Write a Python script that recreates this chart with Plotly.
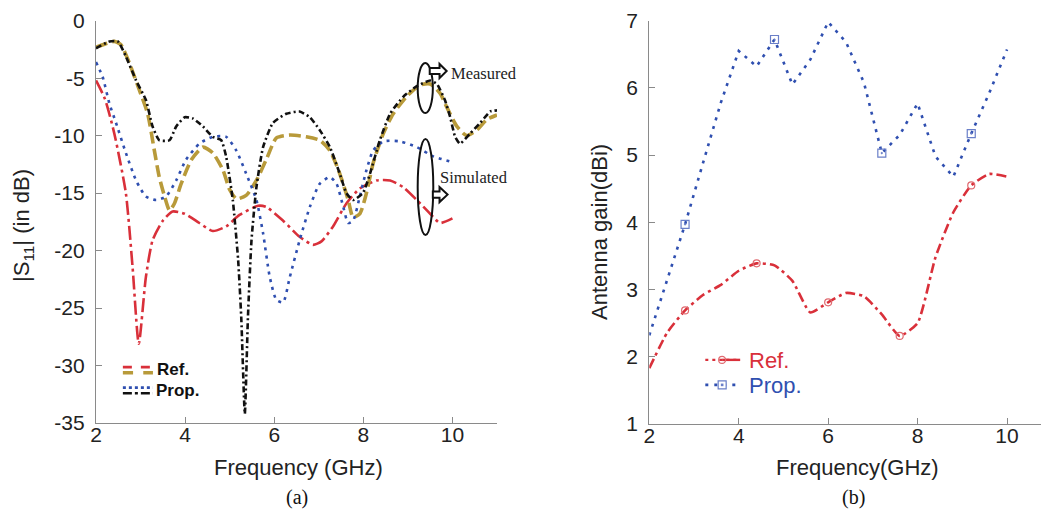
import plotly.graph_objects as go

# ---------------- (a) |S11| data ----------------
ref_sim_f = [2.0, 2.2, 2.41, 2.67, 2.82, 2.96, 3.12, 3.27, 3.5, 3.72, 3.99, 4.32, 4.62, 4.92, 5.22, 5.64,
             5.82, 6.2, 6.57, 6.87, 7.06, 7.32, 7.62, 7.92, 8.3, 8.6, 8.9, 9.2, 9.5, 9.72, 10.0]
ref_sim_s = [-5.2, -6.8, -9.8, -15.0, -21.4, -28.1, -22.3, -19.1, -17.4, -16.6, -16.8, -17.6, -18.3, -17.9,
             -16.9, -16.1, -16.2, -17.4, -18.8, -19.5, -19.2, -17.9, -15.9, -14.6, -13.9, -13.9, -14.5,
             -15.6, -16.8, -17.6, -17.2]

ref_meas_f = [2.0, 2.22, 2.41, 2.56, 2.75, 2.97, 3.16, 3.31, 3.42, 3.54, 3.65, 3.76, 3.91, 4.14, 4.4, 4.62,
              4.85, 5.0, 5.15, 5.37, 5.6, 5.82, 6.05, 6.35, 6.72, 7.02, 7.25, 7.47, 7.66, 7.77, 7.92, 8.07,
              8.22, 8.45, 8.67, 8.97, 9.27, 9.5, 9.72, 9.87, 10.1, 10.32, 10.55, 10.77, 11.0]
ref_meas_s = [-2.3, -2.0, -1.8, -2.1, -3.7, -6.0, -8.1, -11.3, -13.6, -15.3, -16.5, -15.9, -14.2, -12.1,
              -11.0, -11.5, -13.0, -14.7, -15.5, -15.2, -13.9, -12.1, -10.2, -9.95, -10.1, -10.4, -11.3,
              -13.3, -15.6, -17.1, -16.8, -15.0, -12.4, -9.8, -8.1, -6.6, -5.6, -5.5, -6.3, -7.5, -9.2,
              -10.0, -9.5, -8.6, -8.2]

prop_sim_f = [2.0, 2.15, 2.3, 2.45, 2.67, 2.9, 3.12, 3.35, 3.57, 3.8, 4.02, 4.32, 4.62, 4.92, 5.15, 5.37,
              5.6, 5.75, 5.9, 6.05, 6.2, 6.35, 6.57, 6.8, 7.02, 7.25, 7.4, 7.55, 7.66, 7.77, 7.92, 8.07,
              8.22, 8.45, 8.82, 9.2, 9.57, 10.0]
prop_sim_s = [-3.6, -4.9, -7.2, -8.9, -11.5, -13.9, -15.3, -15.6, -15.3, -13.9, -12.1, -10.7, -10.1, -10.1,
              -11.3, -13.3, -15.6, -18.5, -22.3, -24.3, -24.5, -22.3, -19.1, -16.2, -14.2, -13.6, -14.2,
              -16.2, -17.6, -17.4, -15.3, -13.0, -11.3, -10.5, -10.5, -11.0, -11.8, -12.3]

prop_meas_f = [2.0, 2.3, 2.49, 2.67, 2.9, 3.12, 3.27, 3.42, 3.65, 3.8, 3.99, 4.17, 4.4, 4.62, 4.81, 4.92,
               5.07, 5.19, 5.26, 5.34, 5.41, 5.49, 5.6, 5.75, 5.97, 6.27, 6.57, 6.8, 7.02, 7.25, 7.47,
               7.62, 7.77, 7.99, 8.15, 8.37, 8.6, 8.9, 9.2, 9.5, 9.65, 9.83, 9.95, 10.06, 10.17, 10.4,
               10.62, 10.85, 11.0]
prop_meas_s = [-2.4, -1.8, -1.8, -3.1, -5.2, -6.9, -9.2, -10.4, -10.4, -9.2, -8.4, -8.5, -9.2, -10.1,
               -10.4, -11.8, -15.6, -20.8, -25.8, -34.2, -25.8, -19.1, -14.5, -11.0, -8.9, -8.1, -7.9,
               -8.4, -9.5, -11.0, -13.3, -15.0, -15.6, -15.0, -13.3, -10.4, -8.1, -6.6, -5.7, -5.2, -5.5,
               -6.9, -8.4, -10.1, -10.7, -9.8, -8.9, -7.9, -7.8]

s11_xticks = [2, 4, 6, 8, 10]
s11_yticks = [-35, -30, -25, -20, -15, -10, -5, 0]

# ---------------- (b) gain data ----------------
gain_f = [2.0, 2.4, 2.8, 3.2, 3.6, 4.0, 4.4, 4.8, 5.2, 5.6, 6.0, 6.4, 6.8, 7.2, 7.6, 8.0, 8.4, 8.8, 9.2,
          9.6, 10.0]
ref_gain = [1.83, 2.36, 2.69, 2.92, 3.07, 3.28, 3.39, 3.36, 3.13, 2.66, 2.81, 2.95, 2.9, 2.63, 2.31, 2.5,
            3.48, 4.15, 4.55, 4.72, 4.68]
prop_gain = [2.32, 3.15, 3.97, 4.88, 5.78, 6.55, 6.32, 6.72, 6.05, 6.42, 6.98, 6.68, 6.08, 5.03, 5.3,
             5.77, 4.98, 4.68, 5.32, 5.92, 6.57]
ref_marker_idx = [2, 6, 10, 14, 18]
prop_marker_idx = [2, 7, 13, 18]
gain_xticks = [2, 4, 6, 8, 10]
gain_yticks = [1, 2, 3, 4, 5, 6, 7]

RED = "#d9303a"
GOLD = "#b89a3a"
BLUE = "#2f4fb0"
BLACK = "#111111"
AXC = "#8a8a8a"
SANS = "Liberation Sans, Arial, sans-serif"
SERIF = "Liberation Serif, Times New Roman, serif"

fig = go.Figure()

# left panel traces
fig.add_trace(go.Scatter(x=ref_sim_f, y=ref_sim_s, mode="lines", xaxis="x", yaxis="y",
                         line=dict(color=RED, width=2.6, dash="14px,4px,3px,4px", shape="spline", smoothing=0.6)))
fig.add_trace(go.Scatter(x=ref_meas_f, y=ref_meas_s, mode="lines", xaxis="x", yaxis="y",
                         line=dict(color=GOLD, width=3.6, dash="12px,5px", shape="spline", smoothing=0.6)))
fig.add_trace(go.Scatter(x=prop_sim_f, y=prop_sim_s, mode="lines", xaxis="x", yaxis="y",
                         line=dict(color=BLUE, width=2.6, dash="3px,5px", shape="spline", smoothing=0.6)))
fig.add_trace(go.Scatter(x=prop_meas_f, y=prop_meas_s, mode="lines", xaxis="x", yaxis="y",
                         line=dict(color=BLACK, width=2.6, dash="6px,3px,2px,3px", shape="spline", smoothing=0.5)))

# right panel traces
fig.add_trace(go.Scatter(x=gain_f, y=prop_gain, mode="lines", xaxis="x2", yaxis="y2",
                         line=dict(color=BLUE, width=2.6, dash="3px,6px")))
fig.add_trace(go.Scatter(x=[gain_f[i] for i in prop_marker_idx], y=[prop_gain[i] for i in prop_marker_idx],
                         mode="markers", xaxis="x2", yaxis="y2",
                         marker=dict(symbol="square-open-dot", size=8, color="#6a7fc8", line=dict(width=1.2))))
fig.add_trace(go.Scatter(x=gain_f, y=ref_gain, mode="lines", xaxis="x2", yaxis="y2",
                         line=dict(color=RED, width=2.6, dash="10px,4px,3px,4px", shape="spline", smoothing=0.5)))
fig.add_trace(go.Scatter(x=[gain_f[i] for i in ref_marker_idx], y=[ref_gain[i] for i in ref_marker_idx],
                         mode="markers", xaxis="x2", yaxis="y2",
                         marker=dict(symbol="circle-open", size=7, color="#e06a70", line=dict(width=1.2))))

ax_common = dict(showline=True, linecolor=AXC, linewidth=1.2, ticks="inside", ticklen=6, tickcolor=AXC,
                 tickwidth=1.2, showgrid=False, zeroline=False, automargin=False,
                 tickfont=dict(family=SANS, size=21, color="#222"))

W, H = 1041, 514
fig.update_layout(
    width=W, height=H, margin=dict(l=0, r=0, t=0, b=0, autoexpand=False),
    paper_bgcolor="white", plot_bgcolor="white", showlegend=False,
    xaxis=dict(domain=[96 / W, 497 / W], range=[2, 11], tickvals=s11_xticks,
               ticktext=[str(v) for v in s11_xticks], ticklabelstandoff=-7, anchor="y", **ax_common),
    yaxis=dict(domain=[1 - 423 / H, 1 - 20.7 / H], range=[-35, 0], tickvals=s11_yticks,
               ticktext=[str(v) for v in s11_yticks], ticklabelstandoff=6, anchor="x", **ax_common),
    xaxis2=dict(domain=[649.3 / W, 1.0], range=[2, 10.76], tickvals=gain_xticks,
                ticktext=[str(v) for v in gain_xticks], ticklabelstandoff=-7, anchor="y2", **ax_common),
    yaxis2=dict(domain=[1 - 424 / H, 1 - 20.7 / H], range=[1, 7], tickvals=gain_yticks,
                ticktext=[str(v) for v in gain_yticks], ticklabelstandoff=6, anchor="x2", **ax_common),
)

C = dict(xanchor="center", yanchor="middle", showarrow=False)
ann = []
# axis titles
ann.append(dict(text="Frequency (GHz)", x=298 / W, y=1 - 467 / H, xref="paper", yref="paper",
                font=dict(family=SANS, size=22, color="#222"), **C))
ann.append(dict(text="Frequency(GHz)", x=857 / W, y=1 - 467 / H, xref="paper", yref="paper",
                font=dict(family=SANS, size=22, color="#222"), **C))
ann.append(dict(text="|S<sub>11</sub>| (in dB)", x=23 / W, y=1 - 226 / H, xref="paper", yref="paper",
                textangle=-90, font=dict(family=SANS, size=22, color="#222"), **C))
ann.append(dict(text="Antenna gain(dBi)", x=600 / W, y=1 - 232 / H, xref="paper", yref="paper",
                textangle=-90, font=dict(family=SANS, size=22, color="#222"), **C))
# captions
ann.append(dict(text="(a)", x=297 / W, y=1 - 497 / H, xref="paper", yref="paper",
                font=dict(family=SERIF, size=20, color="#111"), **C))
ann.append(dict(text="(b)", x=853 / W, y=1 - 497 / H, xref="paper", yref="paper",
                font=dict(family=SERIF, size=20, color="#111"), **C))
L = dict(xanchor="left", yanchor="middle", showarrow=False)
# left legend text
ann.append(dict(text="<b>Ref.</b>", x=0.147, y=0.134, xref="x domain", yref="y domain",
                font=dict(family=SANS, size=17, color="#111"), **L))
ann.append(dict(text="<b>Prop.</b>", x=0.145, y=0.080, xref="x domain", yref="y domain",
                font=dict(family=SANS, size=17, color="#111"), **L))
# right legend text
ann.append(dict(text="Ref.", x=0.25, y=0.158, xref="x2 domain", yref="y2 domain",
                font=dict(family=SANS, size=22, color=RED), **L))
ann.append(dict(text="Prop.", x=0.25, y=0.096, xref="x2 domain", yref="y2 domain",
                font=dict(family=SANS, size=22, color=BLUE), **L))
# measured / simulated labels
ann.append(dict(text="Measured", x=9.93, y=-4.6, xref="x", yref="y",
                font=dict(family=SERIF, size=16.5, color="#222"), **L))
ann.append(dict(text="Simulated", x=9.68, y=-13.6, xref="x", yref="y",
                font=dict(family=SERIF, size=16.5, color="#222"), **L))
fig.update_layout(annotations=ann)

shapes = []
# left legend samples
for (y0, col, dash, w) in [(0.139, RED, "dash", 2.6), (0.125, GOLD, "dash", 3.4),
                           (0.088, BLUE, "dot", 2.6), (0.074, BLACK, "dashdot", 2.4)]:
    shapes.append(dict(type="line", xref="x domain", yref="y domain", x0=0.067, x1=0.142, y0=y0, y1=y0,
                       line=dict(color=col, width=w, dash=dash)))
# right legend samples
shapes.append(dict(type="line", xref="x2 domain", yref="y2 domain", x0=0.143, x1=0.232, y0=0.159, y1=0.159,
                   line=dict(color=RED, width=2.4, dash="3px,4px,3px,4px")))
shapes.append(dict(type="line", xref="x2 domain", yref="y2 domain", x0=0.186, x1=0.232, y0=0.159, y1=0.159,
                   line=dict(color=RED, width=2.4)))
shapes.append(dict(type="circle", xref="x2 domain", yref="y2 domain", xsizemode="pixel", ysizemode="pixel",
                   xanchor=0.186, yanchor=0.159, x0=-3.5, x1=3.5, y0=-3.5, y1=3.5,
                   line=dict(color="#e06a70", width=1.2)))
shapes.append(dict(type="line", xref="x2 domain", yref="y2 domain", x0=0.143, x1=0.232, y0=0.097, y1=0.097,
                   line=dict(color=BLUE, width=2.6, dash="3px,6px")))
shapes.append(dict(type="rect", xref="x2 domain", yref="y2 domain", xsizemode="pixel", ysizemode="pixel",
                   xanchor=0.186, yanchor=0.097, x0=-4, x1=4, y0=-4, y1=4,
                   fillcolor="white", line=dict(color="#6a7fc8", width=1.2)))
shapes.append(dict(type="rect", xref="x2 domain", yref="y2 domain", xsizemode="pixel", ysizemode="pixel",
                   xanchor=0.186, yanchor=0.097, x0=-1.3, x1=1.3, y0=-1.3, y1=1.3,
                   fillcolor="#6a7fc8", line=dict(width=0)))
# ellipses
shapes.append(dict(type="circle", xref="x", yref="y", x0=9.22, x1=9.56, y0=-8.04, y1=-3.68,
                   line=dict(color="#111", width=2)))
shapes.append(dict(type="circle", xref="x", yref="y", x0=9.22, x1=9.57, y0=-18.65, y1=-10.3,
                   line=dict(color="#111", width=2)))


def block_arrow(xs, xh, xt, yc, hs, hh):
    return (f"M {xs},{yc - hs} L {xh},{yc - hs} L {xh},{yc - hh} L {xt},{yc} L {xh},{yc + hh} "
            f"L {xh},{yc + hs} L {xs},{yc + hs} Z")


shapes.append(dict(type="path", xref="x", yref="y", path=block_arrow(9.49, 9.71, 9.87, -4.38, 0.26, 0.62),
                   fillcolor="white", line=dict(color="#111", width=2)))
shapes.append(dict(type="path", xref="x", yref="y", path=block_arrow(9.56, 9.71, 9.89, -15.13, 0.28, 0.65),
                   fillcolor="white", line=dict(color="#111", width=2)))
fig.update_layout(shapes=shapes)

fig.write_html("out.html")
